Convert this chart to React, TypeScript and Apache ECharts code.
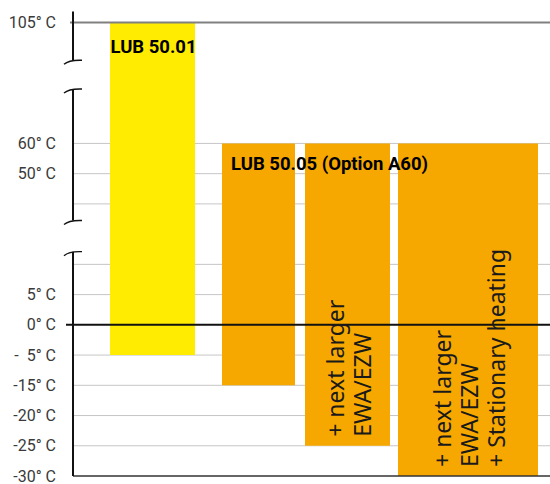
import React, { useEffect, useRef } from "react";
import * as echarts from "echarts";

// Temperature scale: one tick per row, bottom to top (broken axis)
const tempLabels = [
  "-30° C", "-25° C", "-20° C", "-15° C", "-\u00a0\u00a05° C", "0° C", "5° C",
  "", "", "", "50° C", "60° C", "", "", "", "105° C",
];
const gridRows = [1, 2, 3, 4, 6, 7, 9, 10, 11];
const zeroRow = 5;
const topRow = 15;
const bottomRow = 0;

// Bars: horizontal extent (x units), lowest and highest temperature row
const barStart = [37, 149, 232, 325];
const barEnd = [122, 222, 317, 465];
const barLowRow = [4, 3, 1, 0];
const barHighRow = [15, 11, 11, 11];
const barNotes = ["", "", "+ next larger\nEWA/EZW", "+ next larger\nEWA/EZW\n+ Stationary heating"];
const modelNames = ["LUB 50.01", "LUB 50.05 (Option A60)"];

// Axis line gaps (rows) where the scale is broken
const axisTop = 15.36;
const breakGaps = [
  [13.75, 12.8],
  [8.45, 7.42],
];

const X_MAX = 477;
const YELLOW = "#ffec00";
const ORANGE = "#f6a800";

export default function App() {
  const ref = useRef<HTMLDivElement>(null);

  useEffect(() => {
    if (!ref.current) return;
    const chart = echarts.init(ref.current, null, { renderer: "svg" });
    const barData = barStart.map((s, i) => [s, barEnd[i], barLowRow[i], barHighRow[i]]);

    chart.setOption({
      animation: false,
      grid: { left: 73, right: 0, top: 22.5, bottom: 7.5 },
      xAxis: { type: "value", min: 0, max: X_MAX, show: false },
      yAxis: {
        type: "value",
        min: 0,
        max: 15,
        interval: 1,
        axisLine: { show: false },
        axisTick: { show: false },
        splitLine: { show: false },
        axisLabel: {
          formatter: (v: number) => tempLabels[Math.round(v)] ?? "",
          color: "#3a3a3a",
          fontSize: 16,
          fontFamily: "Roboto",
          margin: 17,
        },
      },
      series: [
        {
          type: "custom",
          name: "grid",
          z: 1,
          silent: true,
          data: gridRows.map((r) => [r]),
          encode: { y: 0 },
          renderItem: (params: any, api: any) => {
            const a = api.coord([0, api.value(0)]);
            const b = api.coord([X_MAX, api.value(0)]);
            return {
              type: "line",
              shape: { x1: a[0], y1: a[1], x2: b[0], y2: b[1] },
              style: { stroke: "#c6c6c6", lineWidth: 1 },
            };
          },
        },
        {
          type: "custom",
          name: "bars",
          z: 2,
          data: barData,
          encode: { x: [0, 1], y: [2, 3] },
          renderItem: (params: any, api: any) => {
            const p0 = api.coord([api.value(0), api.value(3)]);
            const p1 = api.coord([api.value(1), api.value(2)]);
            return {
              type: "rect",
              shape: { x: p0[0], y: p0[1], width: p1[0] - p0[0], height: p1[1] - p0[1] },
              style: { fill: params.dataIndex === 0 ? YELLOW : ORANGE },
            };
          },
        },
        {
          type: "custom",
          name: "rules",
          z: 3,
          silent: true,
          data: [[topRow, 0], [zeroRow, 1], [bottomRow, 2]],
          encode: { y: 0 },
          renderItem: (params: any, api: any) => {
            const kind = api.value(1);
            const a = api.coord([0, api.value(0)]);
            const b = api.coord([X_MAX, api.value(0)]);
            const startX = kind === 0 ? a[0] - 3 : kind === 1 ? a[0] - 7 : a[0];
            const stroke = kind === 0 ? "#808080" : kind === 1 ? "#111" : "#333";
            const lw = kind === 2 ? 1.5 : 2;
            return {
              type: "line",
              shape: { x1: startX, y1: a[1], x2: b[0], y2: b[1] },
              style: { stroke, lineWidth: lw },
            };
          },
        },
      ],
    });

    const px = (x: number, y: number) => chart.convertToPixel({ gridIndex: 0 }, [x, y]) as number[];
    const g: any[] = [];
    const ax = px(0, 0)[0];

    // axis line segments with break marks
    const segs: number[][] = [];
    let from = axisTop;
    breakGaps.forEach(([hi, lo]) => {
      segs.push([from, hi]);
      from = lo;
    });
    segs.push([from, 0]);
    segs.forEach(([a, b]) => {
      const ya = px(0, a)[1];
      const yb = px(0, b)[1];
      g.push({
        type: "line",
        z: 20,
        shape: { x1: ax, y1: ya, x2: ax, y2: yb },
        style: { stroke: "#111", lineWidth: 2 },
      });
    });
    breakGaps.forEach(([hi, lo]) => {
      [hi, lo].forEach((v) => {
        const y = px(0, v)[1];
        g.push({
          type: "bezierCurve",
          z: 20,
          shape: { x1: ax - 9, y1: y + 4, cpx1: ax - 4, cpy1: y - 0.5, x2: ax + 9, y2: y },
          style: { stroke: "#111", lineWidth: 1.4, fill: null },
        });
      });
    });

    // model names
    const b0 = px((barStart[0] + barEnd[0]) / 2, barHighRow[0]);
    g.push({
      type: "text",
      z: 30,
      x: b0[0] + 1,
      y: b0[1] + 24.5,
      style: {
        text: modelNames[0],
        font: "bold 18.5px Roboto",
        fill: "#000",
        align: "center",
        textAlign: "center",
        verticalAlign: "middle",
        textVerticalAlign: "middle",
      },
    });
    const b1 = px(barStart[1], barHighRow[1]);
    g.push({
      type: "text",
      z: 30,
      x: b1[0] + 9,
      y: b1[1] + 20.5,
      style: {
        text: modelNames[1],
        font: "bold 18.5px Roboto",
        fill: "#000",
        align: "left",
        textAlign: "left",
        verticalAlign: "middle",
        textVerticalAlign: "middle",
      },
    });

    // rotated notes
    barNotes.forEach((note, i) => {
      if (!note) return;
      const p = px((barStart[i] + barEnd[i]) / 2, barLowRow[i]);
      g.push({
        type: "text",
        z: 30,
        x: p[0] + 1,
        y: p[1] - 9,
        rotation: Math.PI / 2,
        style: {
          text: note,
          font: "23px 'Noto Sans'",
          lineHeight: 27,
          fill: "#1a1a1a",
          align: "left",
          textAlign: "left",
          verticalAlign: "middle",
          textVerticalAlign: "middle",
        },
      });
    });

    chart.setOption({ graphic: g });
    return () => chart.dispose();
  }, []);

  return (
    <div
      ref={ref}
      style={{ position: "fixed", left: 0, top: 0, width: 550, height: 484, background: "#fff" }}
    />
  );
}
